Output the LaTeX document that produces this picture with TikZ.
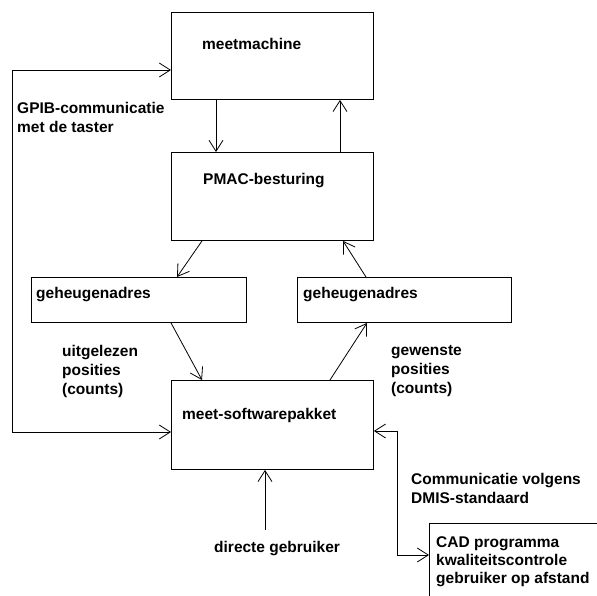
\documentclass[tikz,border=0pt]{standalone}
\usepackage{fontspec}
\setmainfont{Liberation Sans}
\usetikzlibrary{arrows.meta}
\begin{document}
\begin{tikzpicture}[x=1pt,y=-1pt,
  box/.style={draw,line width=0.9pt,inner sep=0pt,anchor=north west},
  lbl/.style={font=\fontsize{15.5}{19}\selectfont\bfseries,inner sep=0pt,align=left},
  arr/.style={line width=0.8pt,-{Straight Barb[length=11pt,width=14pt]}},
  darr/.style={line width=0.8pt,{Straight Barb[length=11pt,width=14pt]}-{Straight Barb[length=11pt,width=14pt]}}]
\useasboundingbox (0,0) rectangle (597,595);
\clip (0,0) rectangle (597,595);
% boxes
\node[box,minimum width=202pt,minimum height=87pt] (mm) at (171,12) {};
\node[box,minimum width=202pt,minimum height=88pt] (pmac) at (171,152) {};
\node[box,minimum width=215pt,minimum height=45pt] (gl) at (31,277) {};
\node[box,minimum width=214pt,minimum height=45pt] (gr) at (297,277) {};
\node[box,minimum width=202pt,minimum height=89pt] (ms) at (171,380) {};
\node[box,minimum width=200pt,minimum height=100pt] (cad) at (429,523) {};
% texts
\node[lbl,anchor=base west] (tmm) at (202,49) {meetmachine};
\node[lbl,anchor=base west] (tpm) at (203,184) {PMAC-besturing};
\node[lbl,anchor=base west] (tgl) at (36,298) {geheugenadres};
\node[lbl,anchor=base west] (tgr) at (303,298) {geheugenadres};
\node[lbl,anchor=base west] (tms) at (182,419) {meet-softwarepakket};
\node[lbl,anchor=north west] (tgp) at (17,102) {GPIB-communicatie\\met de taster};
\node[lbl,anchor=north west] (tui) at (62,345) {uitgelezen\\posities\\(counts)};
\node[lbl,anchor=north west] (tge) at (391,345) {gewenste\\posities\\(counts)};
\node[lbl,anchor=north west] (tdm) at (411,473) {Communicatie volgens\\DMIS-standaard};
\node[lbl,anchor=base west] (tdg) at (214,552) {directe gebruiker};
\node[lbl,anchor=north west,font=\fontsize{15.5}{18}\selectfont\bfseries] (tcad) at (436,536) {CAD programma\\kwaliteitscontrole\\gebruiker op afstand};
% coordinates
\coordinate (a1) at (216,0);
\coordinate (a2) at (340,0);
\coordinate (p1) at (202,0);
\coordinate (g1) at (177,0);
\coordinate (p2) at (343,0);
\coordinate (g2) at (366,0);
\coordinate (g3) at (171,0);
\coordinate (m1) at (202,0);
\coordinate (m2) at (330,0);
\coordinate (g4) at (367,0);
\coordinate (lt) at (12,70);
\coordinate (lb) at (12,432);
\coordinate (rt) at (397,431);
\coordinate (rb) at (397,555);
\coordinate (du) at (265,530);
% connectors
\draw[arr] (mm.south -| a1) -- (pmac.north -| a1);
\draw[arr] (pmac.north -| a2) -- (mm.south -| a2);
\draw[arr] (pmac.south -| p1) -- (gl.north -| g1);
\draw[arr] (gr.north -| g2) -- (pmac.south -| p2);
\draw[arr] (gl.south -| g3) -- (ms.north -| m1);
\draw[arr] (ms.north -| m2) -- (gr.south -| g4);
\draw[darr] (mm.west |- lt) -- (lt) -- (lb) -- (ms.west |- lb);
\draw[darr] (ms.east |- rt) -- (rt) -- (rb) -- (cad.west |- rb);
\draw[arr] (du) -- (ms.south -| du);
\end{tikzpicture}
\end{document}
